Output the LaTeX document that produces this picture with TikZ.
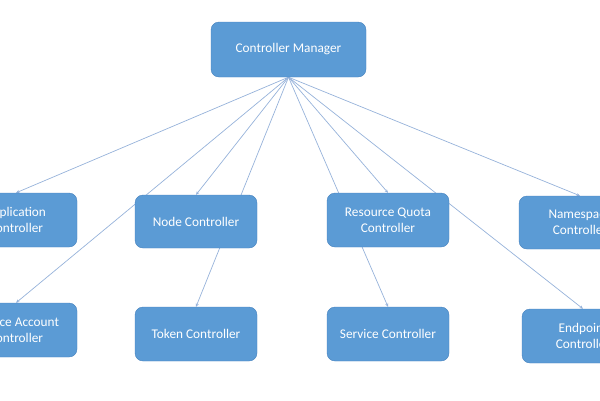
\documentclass[tikz,border=0pt]{standalone}
\usepackage{fontspec}
\setmainfont{Carlito}
\usetikzlibrary{arrows.meta,backgrounds}

\definecolor{boxblue}{RGB}{91,155,213}
\definecolor{boxedge}{RGB}{70,130,190}
\definecolor{linkblue}{RGB}{150,178,218}

\tikzset{
    ctrl/.style={draw=boxedge, fill=boxblue, rounded corners=8pt, text=white,
        align=center, inner sep=0pt, font=\fontsize{13.3}{16}\selectfont},
    link/.style={draw=linkblue, line width=0.7pt, -{Stealth[length=3.5pt,width=3pt]}}
}

\begin{document}
\begin{tikzpicture}[x=1pt, y=-1pt]

    % Canvas
    \useasboundingbox (0,0) rectangle (600,400);
    \clip (0,0) rectangle (600,400);

    % Manager
    \node[ctrl, minimum width=155pt, minimum height=55pt] (mgr) at (288.5,49.5) {Controller Manager};

    % Controllers, upper row
    \node[ctrl, minimum width=122pt, minimum height=54pt] (app) at (16,220) {Replication\\Controller};
    \node[ctrl, minimum width=122pt, minimum height=53pt] (node) at (196,221.5) {Node Controller};
    \node[ctrl, minimum width=122pt, minimum height=54pt] (quota) at (388,220) {Resource Quota\\Controller};
    \node[ctrl, minimum width=122pt, minimum height=53pt] (ns) at (580,222.5) {Namespace\\Controller};

    % Controllers, lower row
    \node[ctrl, minimum width=122pt, minimum height=54pt] (sa) at (16,330) {Service Account\\Controller};
    \node[ctrl, minimum width=122pt, minimum height=54pt] (token) at (196,334) {Token Controller};
    \node[ctrl, minimum width=122pt, minimum height=54pt] (svc) at (388,334) {Service Controller};
    \node[ctrl, minimum width=122pt, minimum height=54pt] (ep) at (583,336) {Endpoint\\Controller};

    % Links from the manager, behind the boxes
    \begin{scope}[on background layer]
        \foreach \target in {app, node, quota, ns, sa, token, svc, ep}
            \draw[link] (mgr.south) -- (\target.north);
    \end{scope}

\end{tikzpicture}
\end{document}
